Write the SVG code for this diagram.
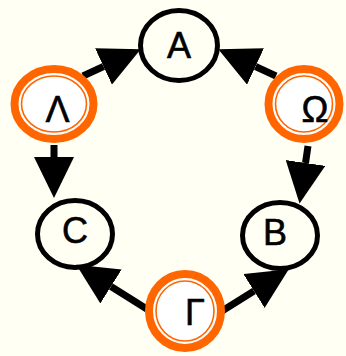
<svg xmlns="http://www.w3.org/2000/svg" width="346" height="356" viewBox="0 0 346 356">
<style>
.bg{fill:#fffff4}
.plain{fill:none;stroke:#000;stroke-width:5}
.outer{fill:#fff;stroke:#ff6600;stroke-width:8}
.inner{fill:none;stroke:#ff6600;stroke-width:1.6}
.lbl{font-family:"Liberation Sans",Arial,sans-serif;font-size:36px;fill:#000;stroke:#000;stroke-width:0.6;text-anchor:middle}
.edge{fill:none;stroke:#000;stroke-width:7;marker-end:url(#ah)}
</style>
<defs>
<marker id="ah" markerUnits="userSpaceOnUse" viewBox="0 0 41 40" refX="0" refY="20" markerWidth="41" markerHeight="40" orient="auto">
<path d="M0,0 L41,20 L0,40 Z" fill="#000"/>
</marker>
</defs>
<rect class="bg" x="0" y="0" width="346" height="356"/>
<g id="edges">
<path class="edge" d="M83,76 L103.5,66.5"/>
<path class="edge" d="M276,76 L255.5,66.5"/>
<path class="edge" d="M54,145 L54,157"/>
<path class="edge" d="M308,146 L305.5,163"/>
<path class="edge" d="M150,311 L111,286.5"/>
<path class="edge" d="M222,311 L254,291"/>
</g>
<g id="A">
<ellipse class="plain" cx="179" cy="45.5" rx="38.5" ry="35"/>
<text class="lbl" x="179" y="58">A</text>
</g>
<g id="Lambda">
<ellipse class="outer" cx="54" cy="104" rx="39.5" ry="35"/>
<ellipse class="inner" cx="54" cy="104" rx="32.5" ry="28"/>
<text class="lbl" x="57.5" y="122">Λ</text>
</g>
<g id="Omega">
<ellipse class="outer" cx="304" cy="104" rx="35.5" ry="35"/>
<ellipse class="inner" cx="304" cy="104" rx="28.5" ry="28"/>
<text class="lbl" x="315" y="122">Ω</text>
</g>
<g id="C">
<ellipse class="plain" cx="75" cy="234" rx="37.5" ry="33.5"/>
<text class="lbl" x="75" y="243">C</text>
</g>
<g id="B">
<ellipse class="plain" cx="280" cy="235.5" rx="37.5" ry="33"/>
<text class="lbl" x="275" y="245">B</text>
</g>
<g id="Gamma">
<ellipse class="outer" cx="185" cy="311" rx="36" ry="37"/>
<ellipse class="inner" cx="185" cy="311" rx="29" ry="30"/>
<text class="lbl" x="195" y="325">Γ</text>
</g>
</svg>
